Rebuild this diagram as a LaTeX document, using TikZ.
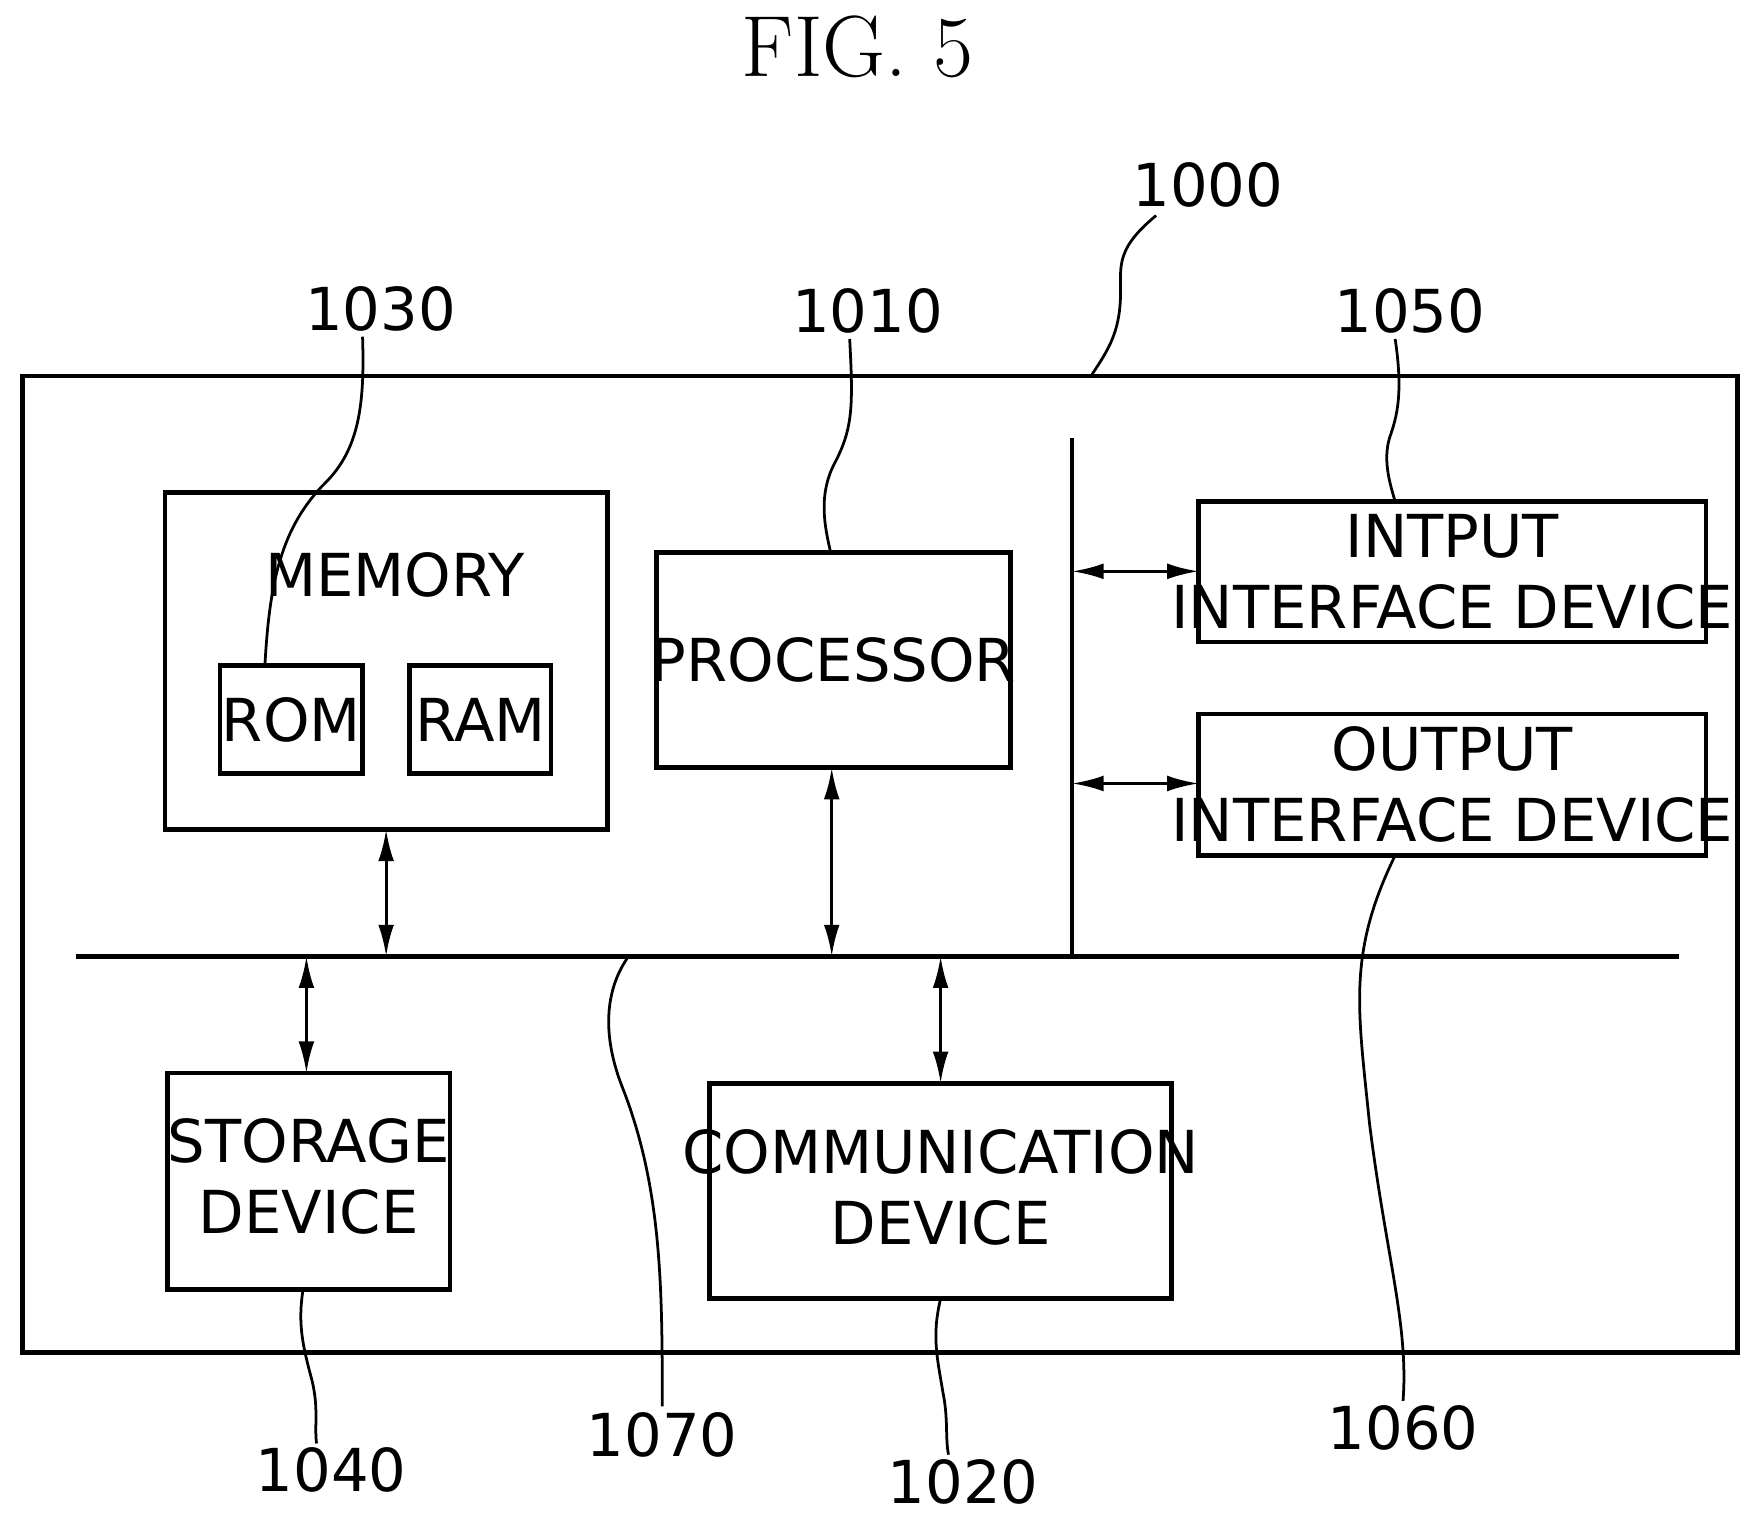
\documentclass[tikz,border=0pt]{standalone}
\usepackage{fontspec}
\setsansfont{DejaVu Sans}
\usetikzlibrary{arrows.meta,positioning,calc}
\begin{document}
\begin{tikzpicture}[x=0.01cm,y=-0.01cm,thick,
    box/.style={draw,line width=1.2pt},
    lbl/.style={font=\sffamily\fontsize{15}{18}\selectfont,align=center,inner sep=0pt},
    num/.style={font=\sffamily\fontsize{15}{18}\selectfont,inner sep=1pt},
    bus/.style={line width=1.2pt},
    dbl/.style={{Latex[length=8pt,width=4pt]}-{Latex[length=8pt,width=4pt]},line width=0.8pt},
    lead/.style={line width=0.7pt}
    ]
    \useasboundingbox (0,0) rectangle (1568,1357);
    \node[font=\fontsize{22}{26}\selectfont] (title) at (764,42) {FIG. 5};

    % the boxes
    \draw[box] (20,335) rectangle (1548,1205);
    \coordinate (outtop) at (972,335);
    \draw[box] (147,439) rectangle (541,739);
    \node[lbl] (mem) at (352,512) {MEMORY};
    \draw[box] (196,593) rectangle (323,689);
    \node[lbl] (rom) at (259.5,641) {ROM};
    \draw[box] (365,593) rectangle (491,689);
    \node[lbl] (ram) at (428,641) {RAM};
    \draw[box] (585,492) rectangle (900,684);
    \node[lbl] (proc) at (742.5,588) {PROCESSOR};
    \draw[box] (1068,447) rectangle (1520,572);
    \node[lbl] (inp) at (1294,509.5) {INTPUT\\INTERFACE DEVICE};
    \draw[box] (1068,636) rectangle (1520,762);
    \node[lbl] (outp) at (1294,699) {OUTPUT\\INTERFACE DEVICE};
    \draw[box] (149,956) rectangle (401,1149);
    \node[lbl] (stor) at (275,1048) {STORAGE\\DEVICE};
    \draw[box] (632,965) rectangle (1044,1157);
    \node[lbl] (comm) at (838,1058) {COMMUNICATION\\DEVICE};

    % the buses
    \coordinate (hl) at (68,852);
    \coordinate (hr) at (1496,852);
    \coordinate (vt) at (955,390);
    \coordinate (vb) at (955,852);
    \draw[bus] (hl) -- (hr);
    \draw[bus] (vt) -- (vb);

    % the arrows
    \draw[dbl] (344,739) -- (344,852);
    \draw[dbl] (741,684) -- (741,852);
    \draw[dbl] (273,852) -- (273,956);
    \draw[dbl] (838,852) -- (838,965);
    \draw[dbl] (955,509) -- (1068,509);
    \draw[dbl] (955,698) -- (1068,698);

    % reference numbers
    \node[num] (n1000) at (1076,165) {1000};
    \node[num] (n1030) at (339,275) {1030};
    \node[num] (n1010) at (773,277) {1010};
    \node[num] (n1050) at (1256,277) {1050};
    \node[num] (n1060) at (1250,1272) {1060};
    \node[num] (n1070) at (590,1278) {1070};
    \node[num] (n1040) at (295,1310) {1040};
    \node[num] (n1020) at (858,1320) {1020};

    % leader lines
    \draw[lead] (1030,192) .. controls (990,225) and (1000,240) .. (998,270)
        .. controls (996,300) and (985,315) .. (outtop);
    \draw[lead] (323,300) .. controls (325,360) and (320,400) .. (290,430)
        .. controls (250,470) and (240,520) .. (236,593);
    \draw[lead] (757,302) .. controls (760,360) and (760,380) .. (745,410)
        .. controls (728,440) and (735,470) .. (740,492);
    \draw[lead] (1243,302) .. controls (1250,350) and (1245,370) .. (1238,390)
        .. controls (1232,410) and (1238,430) .. (1243,447);
    \draw[lead] (1243,762) .. controls (1200,850) and (1210,900) .. (1220,1000)
        .. controls (1235,1120) and (1255,1180) .. (1250,1248);
    \draw[lead] (560,852) .. controls (540,880) and (535,920) .. (555,970)
        .. controls (590,1060) and (590,1150) .. (590,1253);
    \draw[lead] (270,1149) .. controls (265,1180) and (270,1200) .. (278,1230)
        .. controls (284,1255) and (280,1270) .. (282,1286);
    \draw[lead] (838,1157) .. controls (830,1190) and (835,1210) .. (840,1240)
        .. controls (845,1265) and (842,1280) .. (845,1296);
\end{tikzpicture}
\end{document}
